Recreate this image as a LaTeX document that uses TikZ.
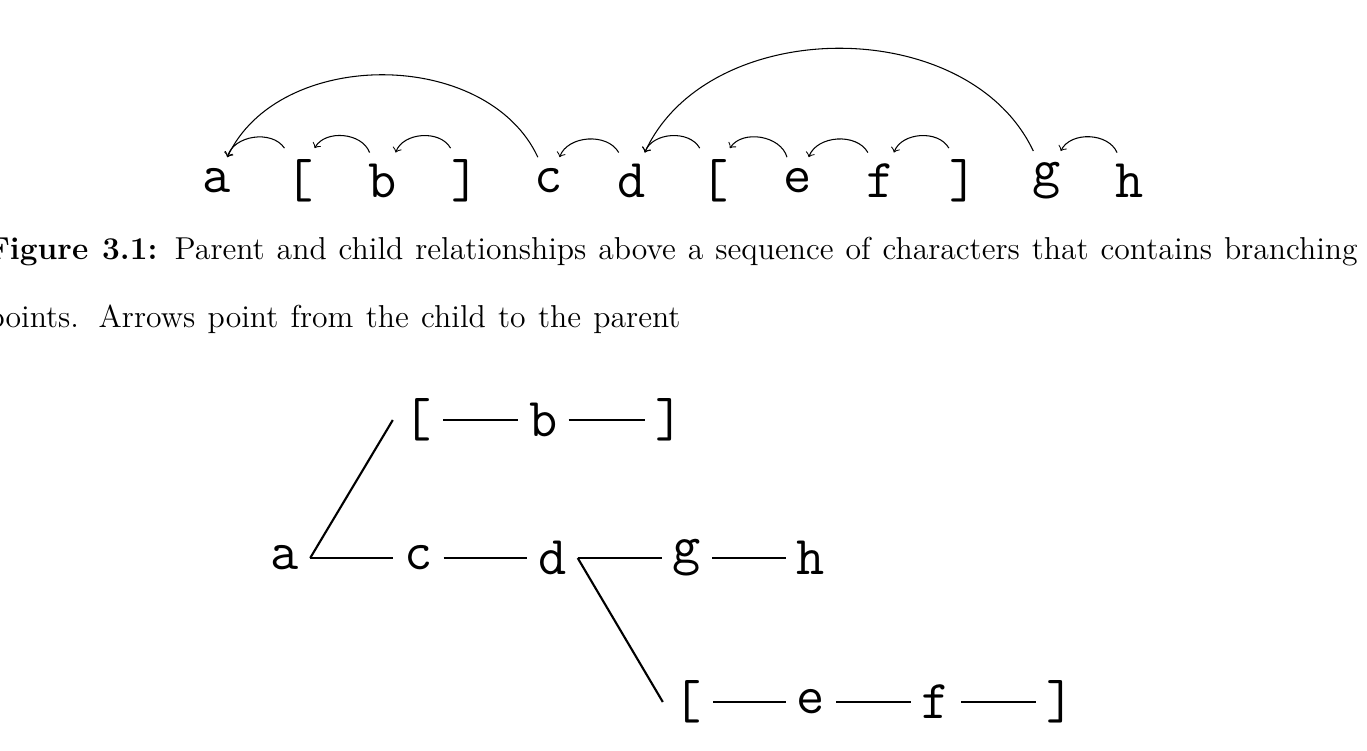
\documentclass[tikz,border=0pt]{standalone}
\begin{document}
\begin{tikzpicture}[x=0.3788pt,y=0.3788pt,
  ch/.style={inner sep=4pt, font=\fontsize{20.74}{25}\selectfont\ttfamily},
  par/.style={->, bend right=65},
  tl/.style={thick},
  captext/.style={anchor=base west, inner sep=0pt, font=\fontsize{12}{14.5}\selectfont}]
\useasboundingbox (0,0) rectangle (1367,750);
% top sequence
\node[ch] (ta)  at (216.50,569.5) {a};
\node[ch] (tlb) at (299.55,569.5) {[};
\node[ch] (tb)  at (382.60,569.5) {b};
\node[ch] (trb) at (465.65,569.5) {]};
\node[ch] (tc)  at (548.70,569.5) {c};
\node[ch] (td)  at (631.75,569.5) {d};
\node[ch] (tlc) at (714.80,569.5) {[};
\node[ch] (te)  at (797.85,569.5) {e};
\node[ch] (tf)  at (880.90,569.5) {f};
\node[ch] (trc) at (963.95,569.5) {]};
\node[ch] (tg)  at (1047.00,569.5) {g};
\node[ch] (th)  at (1130.05,569.5) {h};
\draw[par] (tlb) to (ta);
\draw[par] (tb) to (tlb);
\draw[par] (trb) to (tb);
\draw[par] (tc) to (ta);
\draw[par] (td) to (tc);
\draw[par] (tlc) to (td);
\draw[par] (te) to (tlc);
\draw[par] (tf) to (te);
\draw[par] (trc) to (tf);
\draw[par] (tg) to (td);
\draw[par] (th) to (tg);
% caption
\node[captext] (cap1) at (-13,491) {\hbox to 519pt{\textbf{Figure 3.1:} Parent and child relationships above a sequence of characters that contains branching}};
\node[captext] (cap2) at (-13,423) {\hbox to 262.5pt{points. Arrows point from the child to the parent}};
% tree
\node[ch] (lb1) at (418,330) {[};
\node[ch] (b1)  at (543.5,330) {b};
\node[ch] (rb1) at (670,330) {]};
\node[ch] (a2)  at (285,192) {a};
\node[ch] (c2)  at (418.5,192) {c};
\node[ch] (d2)  at (552.5,192) {d};
\node[ch] (g2)  at (687,192) {g};
\node[ch] (h2)  at (811,192) {h};
\node[ch] (lb3) at (688,48) {[};
\node[ch] (e3)  at (811,48) {e};
\node[ch] (f3)  at (936,48) {f};
\node[ch] (rb3) at (1061,48) {]};
\draw[tl] (a2.east) -- (lb1.west);
\draw[tl] (lb1) -- (b1);
\draw[tl] (b1) -- (rb1);
\draw[tl] (a2) -- (c2);
\draw[tl] (c2) -- (d2);
\draw[tl] (d2) -- (g2);
\draw[tl] (g2) -- (h2);
\draw[tl] (d2.east) -- (lb3.west);
\draw[tl] (lb3) -- (e3);
\draw[tl] (e3) -- (f3);
\draw[tl] (f3) -- (rb3);
\end{tikzpicture}
\end{document}
